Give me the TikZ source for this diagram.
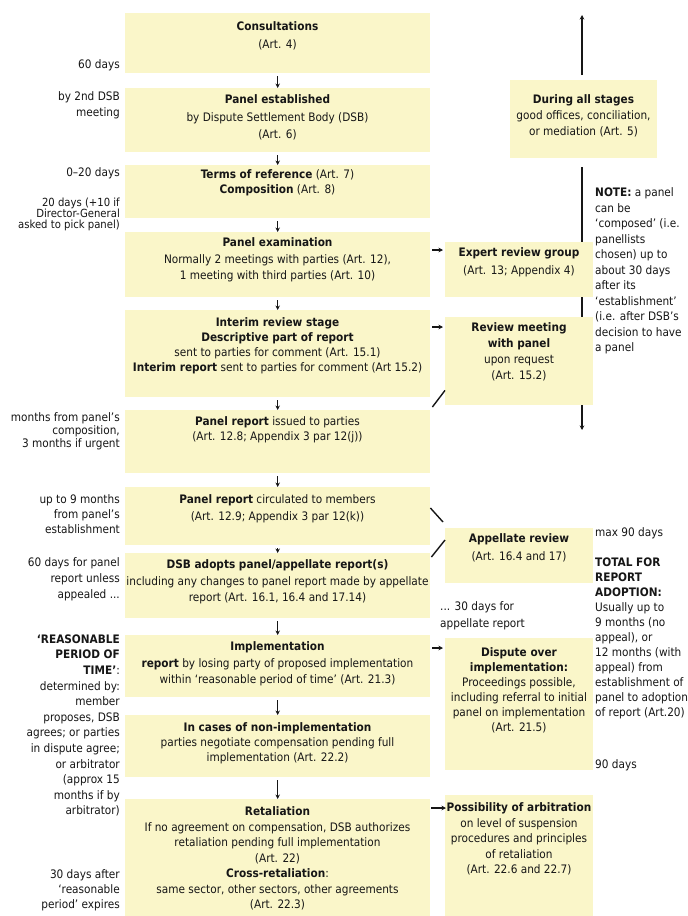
\documentclass[tikz,border=0pt]{standalone}
\usepackage{fontspec}
\setmainfont{DejaVu Sans Condensed}
\usetikzlibrary{arrows.meta,calc}
\definecolor{boxyellow}{RGB}{250,246,201}
\definecolor{ink}{RGB}{22,22,22}
\newcommand{\fs}[1]{\fontsize{11.7}{#1}\selectfont}
\begin{document}
\begin{tikzpicture}[x=1pt,y=-1pt,
  box/.style={fill=boxyellow,draw=none,inner sep=0pt,anchor=north west},
  txt/.style={align=center,inner sep=0pt,anchor=north,text=ink,font=\fs{15}},
  lab/.style={align=right,inner sep=0pt,anchor=north east,text=ink,font=\fs{15}},
  rlab/.style={align=left,inner sep=0pt,anchor=north west,text=ink,font=\fs{15}},
  arr/.style={-{Stealth[length=4.5pt,width=4.5pt]},line width=1.4pt,draw=ink},
  link/.style={line width=1.4pt,draw=ink}]
\fill[white] (0,0) rectangle (688,916);
\useasboundingbox (0,0) rectangle (688,916);

% main column boxes
\node[box,minimum width=305pt,minimum height=60pt] (consult) at (125,13) {};
\node[box,minimum width=305pt,minimum height=64pt] (established) at (125,88) {};
\node[box,minimum width=305pt,minimum height=53pt] (terms) at (125,165) {};
\node[box,minimum width=305pt,minimum height=65pt] (exam) at (125,232) {};
\node[box,minimum width=305pt,minimum height=87pt] (interim) at (125,310) {};
\node[box,minimum width=305pt,minimum height=63pt] (issued) at (125,410) {};
\node[box,minimum width=305pt,minimum height=58pt] (circulated) at (125,487) {};
\node[box,minimum width=305pt,minimum height=65pt] (adopts) at (125,553) {};
\node[box,minimum width=305pt,minimum height=62pt] (impl) at (125,635) {};
\node[box,minimum width=305pt,minimum height=62pt] (nonimpl) at (125,715) {};
\node[box,minimum width=305pt,minimum height=117pt] (retal) at (125,799) {};

% during all stages and its vertical arrows (behind the right boxes)
\node[box,minimum width=147pt,minimum height=78pt] (during) at (510,80) {};
\coordinate (alltop) at (582,15);
\coordinate (allbot) at (582,430);
\draw[arr,shorten <=5pt] (during.north -| alltop) -- (alltop);
\draw[arr,shorten <=9pt] (during.south -| allbot) -- (allbot);

% right column boxes
\node[box,minimum width=148pt,minimum height=55pt] (expert) at (445,242) {};
\node[box,minimum width=148pt,minimum height=88pt] (review) at (445,317) {};
\node[box,minimum width=148pt,minimum height=55pt] (appellate) at (445,528) {};
\node[box,minimum width=148pt,minimum height=132pt] (dispute) at (445,638) {};
\node[box,minimum width=148pt,minimum height=121pt] (possib) at (445,795) {};

% main column arrows
\foreach \a/\b in {consult/established,established/terms,terms/exam,exam/interim,interim/issued,issued/circulated,circulated/adopts,adopts/impl,impl/nonimpl,nonimpl/retal}
  \draw[arr,shorten <=3pt] (\a) -- (\b);

% side arrows
\draw[arr] ($(exam.north east)+(2,18)$) -- ($(expert.north west)+(-2,8)$);
\draw[arr] ($(interim.north east)+(2,17)$) -- ($(review.north west)+(-2,10)$);
\draw[arr] ($(impl.north east)+(2,13)$) -- ($(dispute.north west)+(-2,10)$);
\draw[arr] ($(retal.north east)+(1,9)$) -- ($(possib.north west)+(1,13)$);

% diagonal links
\draw[link] ($(review.south west)+(0,-15)$) -- ($(issued.north east)+(2,-3)$);
\draw[link] ($(circulated.north east)+(0,21)$) -- ($(appellate.north west)+(-2,-6)$);
\draw[link] ($(appellate.north west)+(0,12)$) -- ($(adopts.north east)+(1,4)$);

% main texts
\node[txt] (consult-t) at (277.5,21.5) {\textbf{Consultations}\\[3pt](Art. 4)};
\node[txt,font=\fs{17.5}] (established-t) at (277.5,94.5) {\textbf{Panel established}\\by Dispute Settlement Body (DSB)\\(Art. 6)};
\node[txt] (terms-t) at (277.5,169.5) {\textbf{Terms of reference} (Art. 7)\\\textbf{Composition} (Art. 8)};
\node[txt,font=\fs{16.5}] (exam-t) at (277.5,237.5) {\textbf{Panel examination}\\Normally 2 meetings with parties (Art. 12),\\1 meeting with third parties (Art. 10)};
\node[txt] (interim-t) at (277.5,317.5) {\textbf{Interim review stage}\\\textbf{Descriptive part of report}\\sent to parties for comment (Art. 15.1)\\\textbf{Interim report} sent to parties for comment (Art 15.2)};
\node[txt] (issued-t) at (277.5,416.5) {\textbf{Panel report} issued to parties\\(Art. 12.8; Appendix 3 par 12(j))};
\node[txt,font=\fs{17}] (circulated-t) at (277.5,494.5) {\textbf{Panel report} circulated to members\\(Art. 12.9; Appendix 3 par 12(k))};
\node[txt,font=\fs{16.5}] (adopts-t) at (277.5,559.5) {\textbf{DSB adopts panel/appellate report(s)}\\including any changes to panel report made by appellate\\report (Art. 16.1, 16.4 and 17.14)};
\node[txt,font=\fs{16.5}] (impl-t) at (277.5,641.5) {\textbf{Implementation}\\\textbf{report} by losing party of proposed implementation\\within ‘reasonable period of time’ (Art. 21.3)};
\node[txt] (nonimpl-t) at (277.5,722.5) {\textbf{In cases of non-implementation}\\parties negotiate compensation pending full\\implementation (Art. 22.2)};
\node[txt,font=\fs{15.5}] (retal-t) at (277.5,806.5) {\textbf{Retaliation}\\If no agreement on compensation, DSB authorizes\\retaliation pending full implementation\\(Art. 22)\\\textbf{Cross-retaliation}:\\same sector, other sectors, other agreements\\(Art. 22.3)};

% right column texts
\node[txt,font=\fs{18}] (expert-t) at (519,247.5) {\textbf{Expert review group}\\(Art. 13; Appendix 4)};
\node[txt,font=\fs{16}] (review-t) at (519,322.5) {\textbf{Review meeting}\\\textbf{with panel}\\upon request\\(Art. 15.2)};
\node[txt,font=\fs{16}] (during-t) at (583.5,94.5) {\textbf{During all stages}\\good offices, conciliation,\\or mediation (Art. 5)};
\node[txt,font=\fs{18}] (appellate-t) at (519,533.5) {\textbf{Appellate review}\\(Art. 16.4 and 17)};
\node[txt] (dispute-t) at (519,647.5) {\textbf{Dispute over}\\\textbf{implementation:}\\Proceedings possible,\\including referral to initial\\panel on implementation\\(Art. 21.5)};
\node[txt,font=\fs{15.5}] (possib-t) at (519,802.5) {\textbf{Possibility of arbitration}\\on level of suspension\\procedures and principles\\of retaliation\\(Art. 22.6 and 22.7)};

% notes on the right
\node[rlab,font=\fs{15.5}] (note) at (595,187.5) {\textbf{NOTE:} a panel\\can be\\‘composed’ (i.e.\\panellists\\chosen) up to\\about 30 days\\after its\\‘establishment’\\(i.e. after DSB’s\\decision to have\\a panel};
\node[rlab] (max90) at (595,527.5) {max 90 days};
\node[rlab] (total) at (595,557.5) {\textbf{TOTAL FOR}\\\textbf{REPORT}\\\textbf{ADOPTION:}\\Usually up to\\9 months (no\\appeal), or\\12 months (with\\appeal) from\\establishment of\\panel to adoption\\of report (Art.20)};
\node[rlab] (days90) at (595,759.5) {90 days};
\node[rlab,font=\fs{17}] (appdays) at (440,601.5) {... 30 days for\\appellate report};

% left labels
\node[lab] (l60) at (120,59.5) {60 days};
\node[lab,font=\fs{16}] (l2nd) at (120,91.5) {by 2nd DSB\\meeting};
\node[lab] (l020) at (120,167.5) {0--20 days};
\node[lab,font=\fontsize{11.2}{11}\selectfont] (l20) at (120,198) {20 days (+10 if\\Director-General\\asked to pick panel)};
\node[lab,font=\fs{13}] (lmonths) at (120,412.5) {months from panel’s\\composition,\\3 months if urgent};
\node[lab] (l9) at (120,494.5) {up to 9 months\\from panel’s\\establishment};
\node[lab,font=\fs{16}] (l60p) at (120,557.5) {60 days for panel\\report unless\\appealed ...};
\node[lab,font=\fs{15.6}] (lrpt) at (120,634.5) {\textbf{‘REASONABLE}\\\textbf{PERIOD OF}\\\textbf{TIME’}:\\determined by:\\member\\proposes, DSB\\agrees; or parties\\in dispute agree;\\or arbitrator\\(approx 15\\months if by\\arbitrator)};
\node[lab] (l30) at (120,869.5) {30 days after\\‘reasonable\\period’ expires};
\end{tikzpicture}
\end{document}
